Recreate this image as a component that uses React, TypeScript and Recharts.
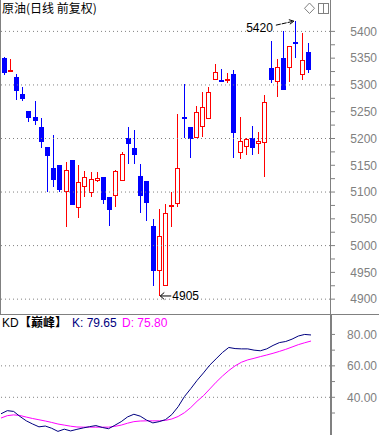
import { ComposedChart, Bar, XAxis, YAxis, ReferenceLine, ReferenceDot, LineChart, Line } from 'recharts'

const RED = '#ff0000'
const BLUE = '#0000ff'
const GRAY = '#808080'
const NAVY = '#000080'
const MAGENTA = '#ff00ff'
const LATIN = '"Liberation Sans", Arial, sans-serif'
const CJK = '"Noto Sans CJK SC", "Noto Sans", sans-serif'

// 日K 数据 (开 高 低 收)
const opens = [
  5350, 5325, 5315, 5284, 5251, 5240, 5221, 5184, 5144, 5150,
  5100, 5160, 5070, 5109, 5099, 5120, 5129, 5091, 5092, 5120,
  5201, 5182, 5130, 5121, 5037, 4952, 4925, 5074, 5077, 5240,
  5221, 5200, 5221, 5236, 5310, 5310, 5310, 5320, 5172, 5184,
  5201, 5190, 5191, 5331, 5305, 5350, 5331, 5381, 5319, 5361,
]
const highs = [
  5352, 5348, 5320, 5296, 5251, 5270, 5238, 5184, 5207, 5150,
  5157, 5160, 5150, 5139, 5138, 5137, 5129, 5091, 5142, 5175,
  5222, 5216, 5152, 5121, 5050, 5069, 5077, 5100, 5246, 5302,
  5221, 5261, 5286, 5296, 5339, 5329, 5322, 5328, 5240, 5200,
  5223, 5212, 5281, 5382, 5348, 5400, 5372, 5420, 5397, 5378,
]
const lows = [
  5319, 5324, 5272, 5270, 5231, 5225, 5183, 5100, 5110, 5100,
  5035, 5075, 5051, 5091, 5090, 5118, 5078, 5037, 5073, 5120,
  5152, 5152, 5060, 5045, 4924, 4905, 4925, 5034, 5072, 5200,
  5164, 5200, 5202, 5236, 5310, 5305, 5303, 5164, 5161, 5170,
  5169, 5171, 5129, 5303, 5277, 5290, 5305, 5351, 5309, 5322,
]
const closes = [
  5323, 5327, 5289, 5274, 5239, 5233, 5194, 5168, 5123, 5104,
  5141, 5076, 5118, 5129, 5124, 5126, 5086, 5067, 5139, 5171,
  5190, 5170, 5093, 5080, 4953, 5018, 5060, 5076, 5145, 5237,
  5199, 5249, 5259, 5286, 5325, 5308, 5312, 5211, 5195, 5199,
  5182, 5195, 5268, 5310, 5333, 5290, 5372, 5376, 5346, 5328,
]

// KD【巅峰】
const kValues = [
  29.5, 31.5, 31.0, 27.8, 25.0, 23.0, 21.2, 21.7, 20.3, 18.3,
  19.7, 18.6, 19.6, 20.5, 21.3, 22.0, 20.8, 20.0, 22.2, 24.5,
  27.5, 29.2, 28.0, 25.5, 23.7, 24.5, 25.8, 29.0, 34.0, 40.5,
  45.5, 50.8, 55.5, 60.5, 64.5, 68.5, 71.7, 71.0, 70.8, 70.8,
  70.0, 69.6, 70.8, 73.0, 74.8, 75.5, 77.0, 79.0, 80.0, 79.65,
]
const dValues = [
  26.8, 28.3, 28.8, 28.4, 27.4, 26.5, 25.7, 24.9, 24.0, 23.0,
  22.3, 21.6, 21.1, 21.0, 21.0, 21.0, 21.0, 21.0, 21.5, 22.3,
  23.5, 24.5, 24.9, 25.0, 25.0, 25.0, 25.3, 26.2, 27.8, 30.2,
  33.5, 37.5, 41.0, 45.3, 49.6, 53.5, 57.0, 60.0, 62.3, 63.8,
  64.8, 65.9, 66.9, 68.0, 69.2, 70.5, 72.0, 73.5, 74.7, 75.80,
]

const priceTicks = [
  4900, 4925, 4950, 4975, 5000, 5025, 5050, 5075, 5100, 5125, 5150,
  5175, 5200, 5225, 5250, 5275, 5300, 5325, 5350, 5375, 5400,
]
const priceGrid = [4900, 5000, 5100, 5200, 5300, 5400]
const kdTicks = [30, 40, 50, 60, 70, 80]
const kdGrid = [40, 60]
const emptySlots = 3

const rows = Array.from({ length: opens.length + emptySlots }, (_, i) => ({
  day: i,
  open: opens[i],
  high: highs[i],
  low: lows[i],
  close: closes[i],
  k: kValues[i],
  d: dValues[i],
}))

const peakIdx = highs.indexOf(Math.max(...highs))
const troughIdx = lows.indexOf(Math.min(...lows))

function Candle(props: any) {
  const { x, y, width, height, payload } = props
  if (payload == null || payload.open == null) return <g />
  const top = Math.min(y, y + height)
  const span = Math.abs(height)
  const ppu = span / (payload.high - payload.low)
  const py = (v: number) => top + (payload.high - v) * ppu
  const cx = Math.floor(x + width / 2)
  const up = payload.close >= payload.open
  const color = up ? RED : BLUE
  const yHigh = Math.round(py(payload.high))
  const yLow = Math.round(py(payload.low))
  const bt = Math.round(py(Math.max(payload.open, payload.close)))
  const bb = Math.round(py(Math.min(payload.open, payload.close)))
  const bodyH = bb - bt
  if (up && bodyH >= 3) {
    return (
      <g>
        <line x1={cx + 0.5} x2={cx + 0.5} y1={yHigh} y2={bt} stroke={color} />
        <line x1={cx + 0.5} x2={cx + 0.5} y1={bb} y2={yLow} stroke={color} />
        <rect x={cx - 1.5} y={bt + 0.5} width={4} height={bodyH - 1} fill="#fff" stroke={color} />
      </g>
    )
  }
  return (
    <g>
      <line x1={cx + 0.5} x2={cx + 0.5} y1={yHigh} y2={yLow} stroke={color} />
      <rect x={cx - 2} y={bt} width={5} height={Math.max(bodyH, 2)} fill={color} />
    </g>
  )
}

function PriceTick({ x, y, payload }: any) {
  if (payload.value % 50 !== 0) return <g />
  return (
    <text x={x + 40} y={y} dy="0.355em" textAnchor="end" fill={GRAY} fontSize={12} fontFamily={LATIN}>
      {payload.value}
    </text>
  )
}

function KdTick({ x, y, payload }: any) {
  if (payload.value % 20 !== 0) return <g />
  return (
    <text x={x + 40} y={y} dy="0.355em" textAnchor="end" fill={GRAY} fontSize={12} fontFamily={LATIN}>
      {payload.value.toFixed(2)}
    </text>
  )
}

function HighMark({ cx, cy, value }: any) {
  return (
    <g>
      <line x1={cx - 20} y1={cy + 4.5} x2={cx - 2} y2={cy + 0.5} stroke="#000" strokeDasharray="5 1" />
      <polyline points={`${cx - 7},${cy - 1} ${cx - 2},${cy + 0.5} ${cx - 6},${cy + 3.5}`} fill="none" stroke="#000" />
      <text x={cx - 23} y={cy + 11} textAnchor="end" fill="#000" fontSize={12} fontFamily={LATIN}>
        {value}
      </text>
    </g>
  )
}

function LowMark({ cx, cy, value }: any) {
  return (
    <g>
      <line x1={cx + 1} y1={cy - 0.5} x2={cx + 12} y2={cy - 0.5} stroke="#000" />
      <polyline points={`${cx + 5},${cy - 4} ${cx + 1},${cy - 0.5} ${cx + 5},${cy + 3}`} fill="none" stroke="#000" />
      <text x={cx + 13} y={cy + 4} fill="#000" fontSize={12} fontFamily={LATIN}>
        {value}
      </text>
    </g>
  )
}

export default function App() {
  const lastK = kValues[kValues.length - 1]
  const lastD = dValues[dValues.length - 1]
  return (
    <div style={{ position: 'relative', width: 379, height: 435, background: '#fff', overflow: 'hidden' }}>
      <style>{'body{margin:0}'}</style>
      <div style={{ position: 'absolute', left: 0, top: 0 }}>
        <ComposedChart width={379} height={314} data={rows} margin={{ top: 18, right: 0, bottom: 2, left: 1 }}>
          <XAxis dataKey="day" type="category" hide />
          <YAxis
            orientation="right"
            width={49}
            domain={[4876, 5425]}
            allowDataOverflow
            ticks={priceTicks}
            interval={0}
            axisLine={false}
            tickLine={{ stroke: GRAY }}
            tickSize={5}
            tick={<PriceTick />}
          />
          {priceGrid.map(v => (
            <ReferenceLine key={v} y={v} stroke={GRAY} strokeDasharray="1 3" />
          ))}
          <Bar
            dataKey={(d: any) => (d.high == null ? null : [d.low, d.high])}
            shape={<Candle />}
            isAnimationActive={false}
          />
          <ReferenceDot
            x={peakIdx}
            y={highs[peakIdx]}
            r={0}
            ifOverflow="visible"
            shape={(p: any) => <HighMark {...p} value={highs[peakIdx]} />}
          />
          <ReferenceDot
            x={troughIdx}
            y={lows[troughIdx]}
            r={0}
            ifOverflow="visible"
            shape={(p: any) => <LowMark {...p} value={lows[troughIdx]} />}
          />
        </ComposedChart>
      </div>
      <div style={{ position: 'absolute', left: 0, top: 314 }}>
        <LineChart width={379} height={121} data={rows} margin={{ top: 0, right: 0, bottom: 0, left: 1 }}>
          <XAxis dataKey="day" type="category" hide />
          <YAxis
            orientation="right"
            width={49}
            domain={[16, 93]}
            allowDataOverflow
            ticks={kdTicks}
            interval={0}
            axisLine={false}
            tickLine={{ stroke: GRAY }}
            tickSize={5}
            tick={<KdTick />}
          />
          {kdGrid.map(v => (
            <ReferenceLine key={v} y={v} stroke={GRAY} strokeDasharray="1 3" />
          ))}
          <Line dataKey="d" stroke={MAGENTA} strokeWidth={1} dot={false} type="linear" isAnimationActive={false} />
          <Line dataKey="k" stroke={NAVY} strokeWidth={1} dot={false} type="linear" isAnimationActive={false} />
        </LineChart>
      </div>
      <svg width={379} height={435} style={{ position: 'absolute', left: 0, top: 0, pointerEvents: 'none' }}>
        <line x1={0.5} x2={0.5} y1={0} y2={314} stroke={GRAY} />
        <line x1={330.5} x2={330.5} y1={0} y2={314} stroke={GRAY} />
        <line x1={331} x2={331} y1={314} y2={435} stroke={GRAY} strokeWidth={2} />
        <line x1={0} x2={379} y1={314.5} y2={314.5} stroke={GRAY} />
        <text x={2} y={13} fill="#000" fontSize={12} fontFamily={CJK}>原油(日线 前复权)</text>
        <polygon points="309.5,3 314.5,8.3 309.5,13.5 304.5,8.3" fill="none" stroke={GRAY} />
        <rect x={318.5} y={3.5} width={10} height={10} fill="none" stroke={GRAY} />
        <line x1={323.5} x2={323.5} y1={3.5} y2={13.5} stroke={GRAY} />
        <text x={2} y={326.5} fill="#000" fontSize={12} fontFamily={LATIN}>KD</text>
        <text x={19} y={326.5} fill="#000" fontSize={12} fontWeight="bold" fontFamily={CJK}>【巅峰】</text>
        <text x={72} y={326.5} fill={NAVY} fontSize={12} fontFamily={LATIN}>K: {lastK.toFixed(2)}</text>
        <text x={122} y={326.5} fill={MAGENTA} fontSize={12} fontFamily={LATIN}>D: {lastD.toFixed(2)}</text>
      </svg>
    </div>
  )
}
